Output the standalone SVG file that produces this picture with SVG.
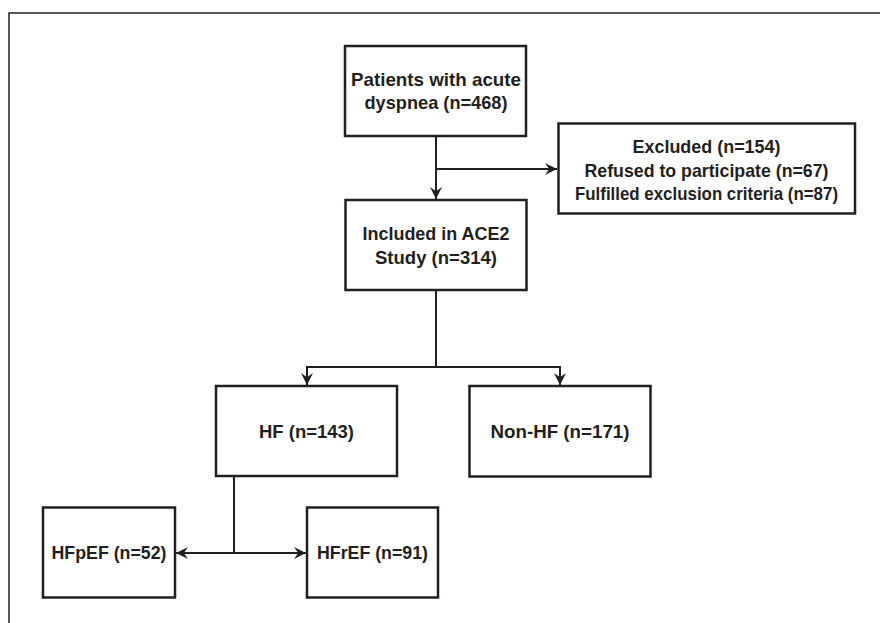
<svg xmlns="http://www.w3.org/2000/svg" width="880" height="623" viewBox="0 0 880 623">
<defs>
<style>
.box{fill:#fff;stroke:#231f20;stroke-width:2.5}
.t{font-family:"Liberation Sans",Arial,sans-serif;font-weight:bold;font-size:19px;fill:#231f20;text-anchor:middle}
.c{fill:none;stroke:#231f20;stroke-width:2}
.frame{fill:none;stroke:#231f20;stroke-width:1.5}
</style>
<marker id="ah" markerUnits="userSpaceOnUse" markerWidth="12" markerHeight="12" viewBox="0 0 10 10" refX="10" refY="5" orient="auto">
<path d="M0,0 L10,5 L0,10 L3.5,5 z" fill="#231f20"/>
</marker>
</defs>
<rect width="880" height="623" fill="#fff"/>
<path class="frame" d="M9,623 V13 H880"/>
<g id="connectors">
<path class="c" d="M436,136 V199" marker-end="url(#ah)"/>
<path class="c" d="M436,169 H557" marker-end="url(#ah)"/>
<path class="c" d="M436,290 V367"/>
<path class="c" d="M436,367 H307 V385" marker-end="url(#ah)"/>
<path class="c" d="M436,367 H560 V385" marker-end="url(#ah)"/>
<path class="c" d="M234,476 V553"/>
<path class="c" d="M234,553 H176" marker-end="url(#ah)"/>
<path class="c" d="M234,553 H306" marker-end="url(#ah)"/>
</g>
<g id="patients">
<rect class="box" x="345" y="46" width="181" height="90"/>
<text class="t" x="436" y="86" textLength="170" lengthAdjust="spacingAndGlyphs">Patients with acute</text>
<text class="t" x="436" y="109" textLength="143" lengthAdjust="spacingAndGlyphs">dyspnea (n=468)</text>
</g>
<g id="excluded">
<rect class="box" x="558.5" y="123.5" width="296.5" height="90"/>
<text class="t" x="706.5" y="152.5" textLength="148" lengthAdjust="spacingAndGlyphs">Excluded (n=154)</text>
<text class="t" x="706.5" y="176.5" textLength="244" lengthAdjust="spacingAndGlyphs">Refused to participate (n=67)</text>
<text class="t" x="706.5" y="200" textLength="263" lengthAdjust="spacingAndGlyphs">Fulfilled exclusion criteria (n=87)</text>
</g>
<g id="included">
<rect class="box" x="345.5" y="200" width="181" height="90"/>
<text class="t" x="436" y="240" textLength="147" lengthAdjust="spacingAndGlyphs">Included in ACE2</text>
<text class="t" x="436" y="263.5" textLength="122" lengthAdjust="spacingAndGlyphs">Study (n=314)</text>
</g>
<g id="hf">
<rect class="box" x="216" y="386" width="181" height="90"/>
<text class="t" x="306.5" y="437.5" textLength="95" lengthAdjust="spacingAndGlyphs">HF (n=143)</text>
</g>
<g id="nonhf">
<rect class="box" x="469.5" y="386" width="181" height="90.5"/>
<text class="t" x="560" y="437.5" textLength="139" lengthAdjust="spacingAndGlyphs">Non-HF (n=171)</text>
</g>
<g id="hfpef">
<rect class="box" x="43" y="507.5" width="132" height="90"/>
<text class="t" x="109" y="559" textLength="115" lengthAdjust="spacingAndGlyphs">HFpEF (n=52)</text>
</g>
<g id="hfref">
<rect class="box" x="307" y="507.5" width="131" height="90"/>
<text class="t" x="372.5" y="559" textLength="111" lengthAdjust="spacingAndGlyphs">HFrEF (n=91)</text>
</g>
</svg>
